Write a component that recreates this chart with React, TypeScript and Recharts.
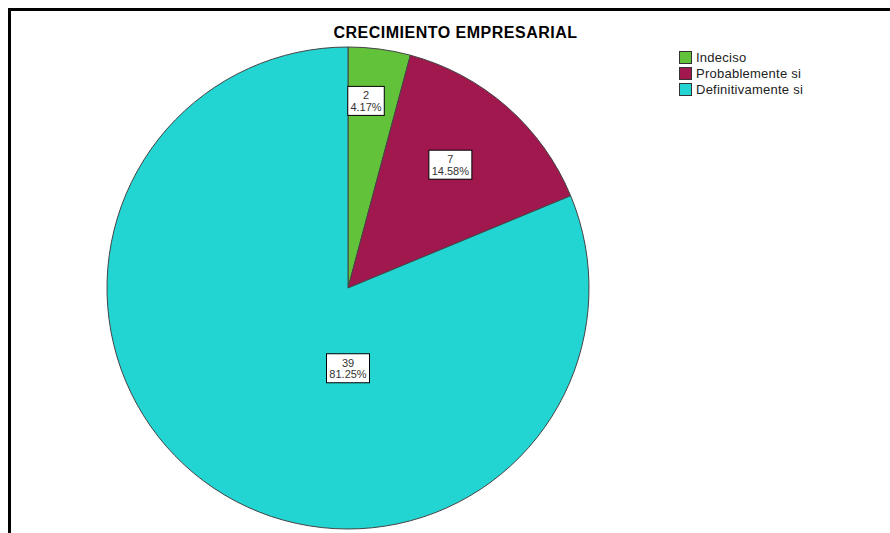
import React from "react";
import { PieChart, Pie, Cell, Legend } from "recharts";

// chart values
const categories = ["Indeciso", "Probablemente si", "Definitivamente si"];
const counts = [2, 7, 39];
const percents = ["4.17%", "14.58%", "81.25%"];
const colors = ["#62c33b", "#a1184f", "#22d5d3"];

// where each label box sits (polar, degrees / fraction of radius)
const labelSpots = [
  { angle: 84.5, rf: 0.78 },
  { angle: 50.3, rf: 0.665 },
  { angle: -90, rf: 0.333 },
];

const data = categories.map((name, i) => ({
  name,
  value: counts[i],
  pct: percents[i],
}));

const FONT = "'Liberation Sans', Arial, sans-serif";
const RADIAN = Math.PI / 180;

const renderLabel = (props: any) => {
  const { cx, cy, outerRadius, index } = props;
  const spot = labelSpots[index];
  const x = cx + outerRadius * spot.rf * Math.cos(spot.angle * RADIAN);
  const y = cy - outerRadius * spot.rf * Math.sin(spot.angle * RADIAN);
  const line1 = String(counts[index]);
  const line2 = percents[index];
  const w = Math.max(line1.length, line2.length) * 6.5 + 4;
  const h = 29;
  return (
    <g>
      <rect
        x={x - w / 2}
        y={y - h / 2}
        width={w}
        height={h}
        fill="#fff"
        stroke="#000"
        strokeWidth={1}
      />
      <text
        x={x}
        y={y - 1.5}
        textAnchor="middle"
        fontSize={11}
        fontFamily={FONT}
        fill="#333"
      >
        {line1}
      </text>
      <text
        x={x}
        y={y + 10}
        textAnchor="middle"
        fontSize={11}
        fontFamily={FONT}
        fill="#333"
      >
        {line2}
      </text>
    </g>
  );
};

const renderLegend = () => (
  <div
    style={{
      fontFamily: FONT,
      fontSize: 13,
      letterSpacing: 0.25,
      color: "#222",
    }}
  >
    {categories.map((c, i) => (
      <div
        key={c}
        style={{ display: "flex", alignItems: "center", height: 16 }}
      >
        <span
          style={{
            width: 11,
            height: 11,
            background: colors[i],
            border: "1px solid #333",
            marginRight: 4,
          }}
        />
        <span>{c}</span>
      </div>
    ))}
  </div>
);

export default function App() {
  return (
    <div
      style={{
        position: "relative",
        width: 890,
        height: 533,
        overflow: "hidden",
        background: "#fff",
      }}
    >
      <style>{`body{margin:0}`}</style>
      <div
        style={{
          position: "absolute",
          left: 8,
          top: 8,
          width: 920,
          height: 600,
          borderTop: "3px solid #000",
          borderLeft: "3px solid #000",
        }}
      />
      <div
        style={{
          position: "absolute",
          left: 0,
          top: 24,
          width: 911,
          textAlign: "center",
          fontFamily: FONT,
          fontWeight: "bold",
          fontSize: 16,
          letterSpacing: 0.5,
          color: "#000",
        }}
      >
        CRECIMIENTO EMPRESARIAL
      </div>
      <PieChart
        width={890}
        height={533}
        margin={{ top: 0, right: 0, bottom: 0, left: 0 }}
        style={{ position: "absolute", left: 0, top: 0 }}
      >
        <Pie
          data={data}
          dataKey="value"
          nameKey="name"
          cx={348}
          cy={288}
          outerRadius={241}
          startAngle={90}
          endAngle={-270}
          stroke="#444"
          strokeWidth={1}
          label={renderLabel}
          labelLine={false}
          isAnimationActive={false}
        >
          {data.map((d, i) => (
            <Cell key={d.name} fill={colors[i]} />
          ))}
        </Pie>
        <Legend
          layout="vertical"
          align="right"
          verticalAlign="top"
          content={renderLegend}
          wrapperStyle={{ left: 679, top: 49, width: 180 }}
        />
      </PieChart>
    </div>
  );
}
